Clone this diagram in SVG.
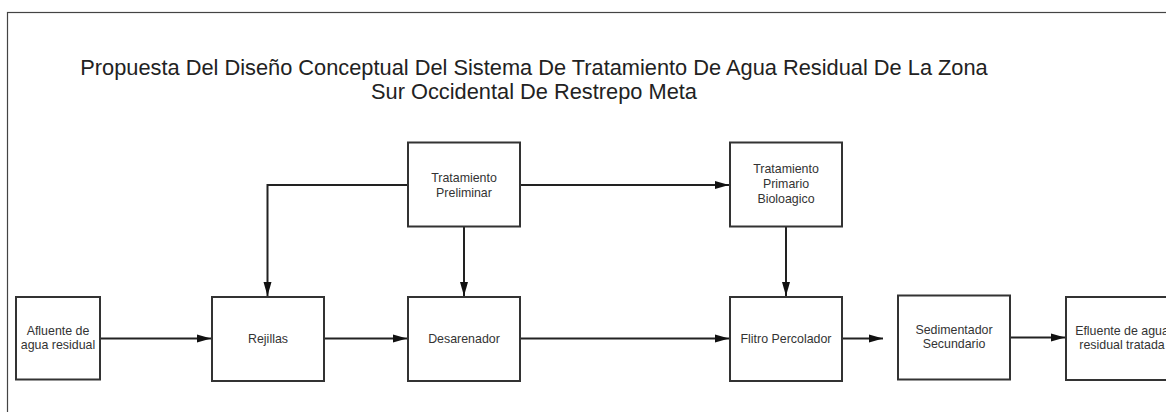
<svg xmlns="http://www.w3.org/2000/svg" width="1166" height="412" viewBox="0 0 1166 412">
<style>
  .frame { fill: none; stroke: #444; stroke-width: 1.2; }
  .box { fill: #fff; stroke: #333; stroke-width: 2; }
  .title { font-family: "Liberation Sans", Arial, sans-serif; font-size: 21.8px; fill: #222; text-anchor: middle; }
  .lbl { font-family: "Liberation Sans", Arial, sans-serif; font-size: 12.4px; fill: #333; text-anchor: middle; }
  .conn { fill: none; stroke: #222; stroke-width: 2; }
</style>
<defs>
  <marker id="arr" markerUnits="userSpaceOnUse" markerWidth="15" markerHeight="10" refX="14" refY="5" orient="auto">
    <path d="M0,1 L14,5 L0,9 z" fill="#111"/>
  </marker>
</defs>
<rect class="frame" x="7.5" y="12.5" width="1200" height="450"/>
<g id="title">
  <text class="title" x="534" y="75">Propuesta Del Diseño Conceptual Del Sistema De Tratamiento De Agua Residual De La Zona</text>
  <text class="title" x="534" y="99">Sur Occidental De Restrepo Meta</text>
</g>
<g id="connectors">
  <path class="conn" d="M408,185 L267.5,185 L267.5,296" marker-end="url(#arr)"/>
  <path class="conn" d="M464,227 L464,296" marker-end="url(#arr)"/>
  <path class="conn" d="M520,185 L729,185" marker-end="url(#arr)"/>
  <path class="conn" d="M786,227 L786,296" marker-end="url(#arr)"/>
  <path class="conn" d="M100,338.5 L211,338.5" marker-end="url(#arr)"/>
  <path class="conn" d="M324,338.5 L407,338.5" marker-end="url(#arr)"/>
  <path class="conn" d="M520,338.5 L729,338.5" marker-end="url(#arr)"/>
  <path class="conn" d="M842,338.5 L883,338.5" marker-end="url(#arr)"/>
  <path class="conn" d="M1010,337.5 L1065,337.5" marker-end="url(#arr)"/>
</g>
<g id="tratamiento-preliminar">
  <rect class="box" x="408" y="142.5" width="112" height="84"/>
  <text class="lbl" x="464" y="181.5">Tratamiento</text>
  <text class="lbl" x="464" y="197">Preliminar</text>
</g>
<g id="tratamiento-primario">
  <rect class="box" x="730" y="142.5" width="112" height="84"/>
  <text class="lbl" x="786" y="173">Tratamiento</text>
  <text class="lbl" x="786" y="188">Primario</text>
  <text class="lbl" x="786" y="203">Bioloagico</text>
</g>
<g id="afluente">
  <rect class="box" x="16" y="297" width="84" height="82.5"/>
  <text class="lbl" x="58" y="334.5">Afluente de</text>
  <text class="lbl" x="58" y="349">agua residual</text>
</g>
<g id="rejillas">
  <rect class="box" x="212" y="297" width="112" height="84"/>
  <text class="lbl" x="268" y="343">Rejillas</text>
</g>
<g id="desarenador">
  <rect class="box" x="408" y="297" width="112" height="84"/>
  <text class="lbl" x="464" y="343">Desarenador</text>
</g>
<g id="filtro-percolador">
  <rect class="box" x="730" y="297" width="112" height="84"/>
  <text class="lbl" x="786" y="343">Flitro Percolador</text>
</g>
<g id="sedimentador">
  <rect class="box" x="898" y="295.5" width="112" height="84"/>
  <text class="lbl" x="954" y="333.5">Sedimentador</text>
  <text class="lbl" x="954" y="348">Secundario</text>
</g>
<g id="efluente">
  <rect class="box" x="1066" y="297" width="112" height="83"/>
  <text class="lbl" x="1122" y="334.5">Efluente de agua</text>
  <text class="lbl" x="1122" y="349">residual tratada</text>
</g>
</svg>
